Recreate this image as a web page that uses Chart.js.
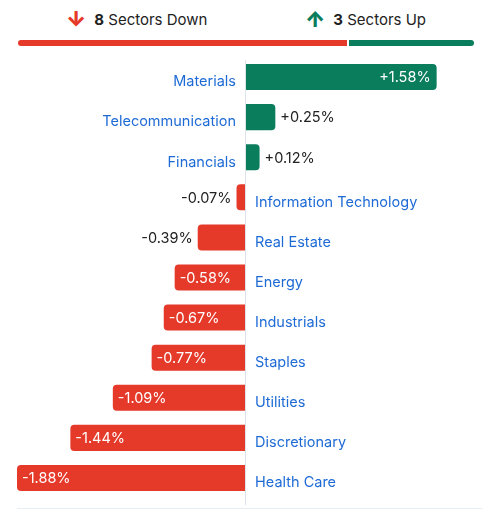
<!DOCTYPE html>
<html><head><meta charset="utf-8">
<script src="https://cdn.jsdelivr.net/npm/chart.js@4"></script>
<style>
body{margin:0;background:#fff;font-family:Inter,"Noto Sans",sans-serif;}
#wrap{position:relative;width:499px;height:512px;}
.hd{position:absolute;top:10px;font-size:15px;color:#222;line-height:20px}
.hd b{font-weight:700}
.arr{font-weight:900;font-size:21px;margin-right:8px;vertical-align:-2px}
.bar{position:absolute;top:40px;height:6px}
#bottomline{position:absolute;left:17px;right:17px;top:508px;height:1px;background:#e8edf2}
</style></head>
<body><div id="wrap">
<div class="hd" style="left:66px"><span class="arr" style="color:#e5392a">&#8595;</span><b>8</b> Sectors Down</div>
<div class="hd" style="left:305px"><span class="arr" style="color:#0a7d5c">&#8593;</span><b>3</b> Sectors Up</div>
<div class="bar" style="left:18px;width:329px;background:#e5392a;border-radius:3px 0 0 3px"></div>
<div class="bar" style="left:349px;width:125px;background:#0a7d5c;border-radius:0 3px 3px 0"></div>
<div id="bottomline"></div>
<canvas id="c" width="499" height="512" style="position:absolute;left:0;top:0;width:499px;height:512px"></canvas>
</div>
<script>
const sectors = ['Materials','Telecommunication','Financials','Information Technology','Real Estate','Energy','Industrials','Staples','Utilities','Discretionary','Health Care'];
const changes = [1.58,0.25,0.12,-0.07,-0.39,-0.58,-0.67,-0.77,-1.09,-1.44,-1.88];
const RED='#e5392a', GREEN='#0a7d5c', BLUE='#1f6bd6';

const labelsPlugin = {
  id:'labels',
  afterDatasetsDraw(chart){
    const {ctx, scales:{x}} = chart;
    const zero = x.getPixelForValue(0);
    ctx.save();
    ctx.strokeStyle='#dde3ea'; ctx.lineWidth=1;
    ctx.beginPath(); ctx.moveTo(zero+0.5,60); ctx.lineTo(zero+0.5,505); ctx.stroke();
    ctx.font='14.5px Inter, "Noto Sans", sans-serif';
    ctx.textBaseline='middle';
    chart.getDatasetMeta(0).data.forEach((b,i)=>{
      const v=changes[i], y=b.y+1;
      const txt=(v>0?'+':'')+v.toFixed(2)+'%';
      const w=ctx.measureText(txt).width;
      const len=Math.abs(b.x-zero);
      ctx.fillStyle=BLUE;
      if(v>0){ctx.textAlign='right';ctx.fillText(sectors[i],zero-9,y+4);}
      else{ctx.textAlign='left';ctx.fillText(sectors[i],zero+10,y+4);}
      if(len>w+12){
        ctx.fillStyle='#fff';
        if(v>0){ctx.textAlign='right';ctx.fillText(txt,b.x-6,y);}
        else{ctx.textAlign='left';ctx.fillText(txt,b.x+5,y);}
      } else {
        ctx.fillStyle='#222';
        if(v>0){ctx.textAlign='left';ctx.fillText(txt,b.x+5,y);}
        else{ctx.textAlign='right';ctx.fillText(txt,b.x-5,y);}
      }
    });
    ctx.restore();
  }
};

new Chart(document.getElementById('c'),{
  type:'bar',
  data:{labels:sectors,datasets:[{
    data:changes,
    backgroundColor:changes.map(v=>v>0?GREEN:RED),
    borderRadius:4, borderSkipped:'start',
    barPercentage:0.65, categoryPercentage:1
  }]},
  options:{
    indexAxis:'y', responsive:false, animation:false,
    devicePixelRatio:1,
    layout:{padding:{left:17,right:17,top:57,bottom:14}},
    plugins:{legend:{display:false},tooltip:{enabled:false}},
    scales:{
      x:{display:false,min:-1.88,max:1.954},
      y:{display:false}
    }
  },
  plugins:[labelsPlugin]
});
</script>
</body></html>
